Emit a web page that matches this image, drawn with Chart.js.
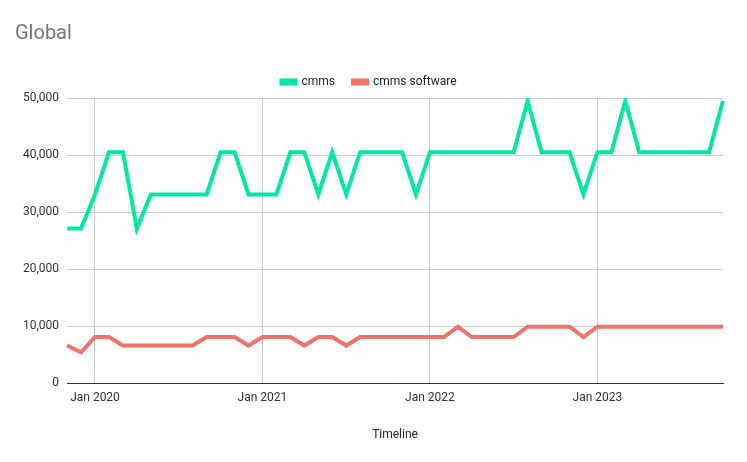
<!DOCTYPE html>
<html>
<head>
<meta charset="utf-8">
<script src="https://cdn.jsdelivr.net/npm/chart.js@4"></script>
<style>
body { margin:0; background:#fff; }
#wrap { width:747px; height:462px; }
</style>
</head>
<body>
<div id="wrap"><canvas id="c" width="747" height="462"></canvas></div>
<script>
// months Nov 2019 .. Oct 2023
var months = [];
var names = ["Jan","Feb","Mar","Apr","May","Jun","Jul","Aug","Sep","Oct","Nov","Dec"];
for (var y = 2019; y <= 2023; y++) {
	for (var m = 0; m < 12; m++) {
		if (y == 2019 && m < 10) continue;
		if (y == 2023 && m > 9) continue;
		months.push(names[m] + " " + y);
	}
}
var cmms = [27100,27100,33100,40500,40500,27100,33100,33100,33100,33100,33100,40500,40500,33100,
	33100,33100,40500,40500,33100,40500,33100,40500,40500,40500,40500,33100,
	40500,40500,40500,40500,40500,40500,40500,49500,40500,40500,40500,33100,
	40500,40500,49500,40500,40500,40500,40500,40500,40500,49500];
var cmmsSoftware = [6600,5400,8100,8100,6600,6600,6600,6600,6600,6600,8100,8100,8100,6600,
	8100,8100,8100,6600,8100,8100,6600,8100,8100,8100,8100,8100,
	8100,8100,9900,8100,8100,8100,8100,9900,9900,9900,9900,8100,
	9900,9900,9900,9900,9900,9900,9900,9900,9900,9900];
var yTicks = [0,10000,20000,30000,40000,50000];

function isJan(i) { return months[i].indexOf("Jan") == 0; }

new Chart(document.getElementById("c").getContext("2d"), {
	type: "line",
	data: {
		labels: months,
		datasets: [
			{ label: "cmms", data: cmms, borderColor: "#00e8a2", backgroundColor: "#00e8a2", borderWidth: 4, pointRadius: 0, tension: 0 },
			{ label: "cmms software", data: cmmsSoftware, borderColor: "#f07268", backgroundColor: "#f07268", borderWidth: 4, pointRadius: 0, tension: 0 }
		]
	},
	options: {
		responsive: false,
		animation: false,
		layout: { padding: { left: 15, right: 24, top: 8, bottom: 16 } },
		plugins: {
			title: { display: true, text: "Global", align: "start", color: "#757575", font: { family: "Roboto", size: 20, weight: "normal" }, padding: { top: 14, bottom: 12 } },
			legend: { labels: { boxWidth: 14, boxHeight: 3, color: "#222", font: { family: "Roboto", size: 12 }, padding: 18 } },
			tooltip: { enabled: false }
		},
		scales: {
			x: {
				offset: false,
				grid: { color: function(ctx) { return isJan(ctx.index) ? "#cccccc" : "rgba(0,0,0,0)"; }, drawTicks: false },
				border: { color: "#333" },
				ticks: { autoSkip: false, maxRotation: 0, color: "#333", font: { family: "Roboto", size: 12 }, padding: 8,
					callback: function(v, i) { return isJan(i) ? months[i] : ""; } },
				title: { display: true, text: "Timeline", color: "#222", font: { family: "Roboto", size: 12 }, padding: { top: 14 } }
			},
			y: {
				min: 0, max: 50000,
				afterBuildTicks: function(s) { s.ticks = yTicks.map(function(v) { return { value: v }; }); },
				grid: { color: "#cccccc", drawTicks: false },
				border: { display: false },
				ticks: { color: "#333", font: { family: "Roboto", size: 12 }, padding: 8,
					callback: function(v) { return v.toLocaleString("en-US"); } }
			}
		}
	}
});
</script>
</body>
</html>
